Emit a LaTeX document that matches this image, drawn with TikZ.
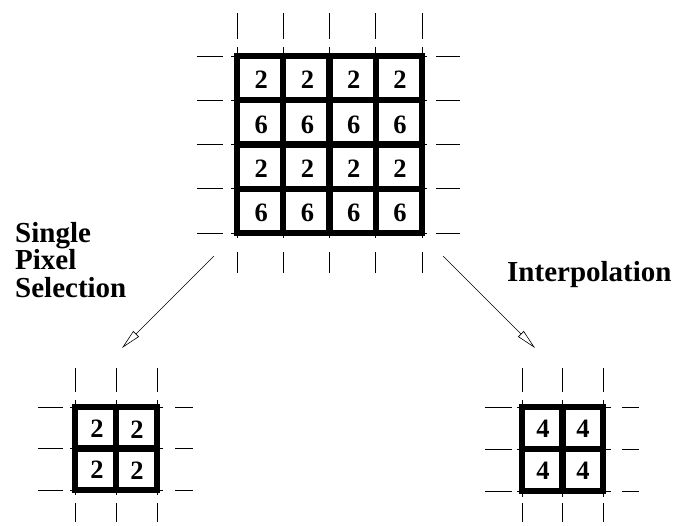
\documentclass[tikz,border=0pt]{standalone}
\usepackage{fontspec}
\setmainfont{Liberation Serif}
\usetikzlibrary{arrows.meta}
\begin{document}
\begin{tikzpicture}[x=1pt,y=-1pt,
  cellwall/.style={line width=6.4pt, line join=miter, line cap=rect},
  tick/.style={line width=0.9pt},
  val/.style={font=\fontsize{26.5}{30}\selectfont\bfseries, inner sep=0pt},
  caption/.style={font=\fontsize{29}{27.5}\selectfont\bfseries, inner sep=0pt, align=left},
  flow/.style={line width=0.6pt, -{Triangle[open,length=20pt,width=8pt]}}]
\useasboundingbox (0,0) rectangle (676,525);

% ---------- large 4x4 grid ----------
\def\xs{237,283.25,329.5,375.75,422}
\def\ys{56,100.25,144.5,188.75,233}
% guide ticks on the vertical grid lines
\foreach \x in \xs {
  \draw[tick] (\x,13) -- (\x,39);
  \draw[tick] (\x,47) -- (\x,238);
  \draw[tick] (\x,252) -- (\x,273);
}
% guide ticks on the horizontal grid lines
\foreach \y in \ys {
  \draw[tick] (197,\y) -- (223,\y);
  \draw[tick] (231,\y) -- (427,\y);
  \draw[tick] (436,\y) -- (460,\y);
}
\draw[cellwall] (237,56) rectangle (422,233);
\foreach \x in {283.25,329.5,375.75} \draw[cellwall] (\x,56) -- (\x,233);
\foreach \y in {100.25,144.5,188.75} \draw[cellwall] (237,\y) -- (422,\y);
% cell values
\foreach \v [count=\r] in {2,6,2,6} {
  \foreach \c in {1,...,4} {
    \node[val] (big-\r-\c) at ({237+46.25*(\c-0.5)+1}, {56+44.25*(\r-0.5)+2}) {\v};
  }
}

% ---------- small grid, single pixel selection ----------
\foreach \x in {75,116,157} {
  \draw[tick] (\x,368) -- (\x,392);
  \draw[tick] (\x,400) -- (\x,495);
  \draw[tick] (\x,503) -- (\x,522);
}
\foreach \y in {407,448.5,490} {
  \draw[tick] (38,\y) -- (63,\y);
  \draw[tick] (70,\y) -- (163,\y);
  \draw[tick] (175,\y) -- (193,\y);
}
\draw[cellwall] (75,407) rectangle (157,490);
\draw[cellwall] (116,407) -- (116,490);
\draw[cellwall] (75,448.5) -- (157,448.5);
\node[val] (sel-1-1) at (97,429) {2};
\node[val] (sel-1-2) at (137,430) {2};
\node[val] (sel-2-1) at (97,470) {2};
\node[val] (sel-2-2) at (137,471) {2};

% ---------- small grid, interpolation ----------
\foreach \x in {522,562.5,603} {
  \draw[tick] (\x,368) -- (\x,392);
  \draw[tick] (\x,400) -- (\x,497);
  \draw[tick] (\x,503) -- (\x,522);
}
\foreach \y in {407,449,491} {
  \draw[tick] (485,\y) -- (512,\y);
  \draw[tick] (517,\y) -- (611,\y);
  \draw[tick] (622,\y) -- (639,\y);
}
\draw[cellwall] (522,407) rectangle (603,491);
\draw[cellwall] (562.5,407) -- (562.5,491);
\draw[cellwall] (522,449) -- (603,449);
\node[val] (int-1-1) at (543,428.5) {4};
\node[val] (int-1-2) at (583,429) {4};
\node[val] (int-2-1) at (543,470.5) {4};
\node[val] (int-2-2) at (583,471) {4};

% ---------- captions ----------
\node[caption, anchor=base west] (selcap) at (15,297) {Single\\Pixel\\Selection};
\node[caption, anchor=base west] (intcap) at (507,281) {Interpolation};

% ---------- arrows ----------
\coordinate (selfrom) at (214,256);
\coordinate (selto) at (122,348);
\coordinate (intfrom) at (443,256);
\coordinate (intto) at (535,348);
\draw[flow] (selfrom) -- (selto);
\draw[flow] (intfrom) -- (intto);
\end{tikzpicture}
\end{document}
